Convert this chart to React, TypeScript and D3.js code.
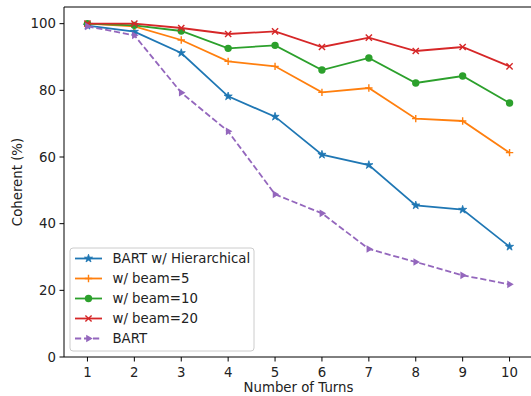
import * as d3 from "d3";

const W = 531;
const H = 396;
const M = { left: 64, right: 533, top: 7, bottom: 357 };

const TURNS = [1, 2, 3, 4, 5, 6, 7, 8, 9, 10];
const Y_TICKS = [0, 20, 40, 60, 80, 100];

const HIER = [99.4, 97.6, 91.2, 78.2, 72.1, 60.7, 57.6, 45.5, 44.2, 33.1];
const BEAM5 = [100, 99.2, 95.1, 88.7, 87.2, 79.4, 80.7, 71.5, 70.8, 61.3];
const BEAM10 = [100, 99.5, 97.8, 92.6, 93.5, 86.1, 89.7, 82.2, 84.3, 76.2];
const BEAM20 = [100, 100, 98.7, 96.9, 97.7, 93.0, 95.8, 91.8, 93.0, 87.2];
const BART = [99.2, 96.5, 79.3, 67.7, 48.8, 43.1, 32.4, 28.5, 24.5, 21.8];

type Marker = "star" | "plus" | "circle" | "x" | "tri";

const SERIES: { name: string; values: number[]; color: string; marker: Marker; dashed?: boolean }[] = [
  { name: "BART w/ Hierarchical", values: HIER, color: "#1f77b4", marker: "star" },
  { name: "w/ beam=5", values: BEAM5, color: "#ff7f0e", marker: "plus" },
  { name: "w/ beam=10", values: BEAM10, color: "#2ca02c", marker: "circle" },
  { name: "w/ beam=20", values: BEAM20, color: "#d62728", marker: "x" },
  { name: "BART", values: BART, color: "#9467bd", marker: "tri", dashed: true },
];

const FONT = "DejaVu Sans, sans-serif";
const FS = 13.3;
const DASH = "6.2,2.8";

function starPath(r: number) {
  const pts: string[] = [];
  for (let i = 0; i < 10; i++) {
    const a = -Math.PI / 2 + (i * Math.PI) / 5;
    const rr = i % 2 === 0 ? r : r * 0.38;
    pts.push(`${(Math.cos(a) * rr).toFixed(2)},${(Math.sin(a) * rr).toFixed(2)}`);
  }
  return "M" + pts.join("L") + "Z";
}

function MarkerShape({ kind, x, y, color }: { kind: Marker; x: number; y: number; color: string }) {
  const t = `translate(${x},${y})`;
  if (kind === "circle") return <circle cx={x} cy={y} r={3.7} fill={color} />;
  if (kind === "star") return <path transform={t} d={starPath(4.3)} fill={color} stroke={color} strokeWidth={0.8} />;
  if (kind === "plus")
    return <path transform={t} d="M-3.7,0H3.7M0,-3.7V3.7" stroke={color} strokeWidth={1.4} fill="none" />;
  if (kind === "x")
    return <path transform={t} d="M-3.1,-3.1L3.1,3.1M-3.1,3.1L3.1,-3.1" stroke={color} strokeWidth={1.4} fill="none" />;
  return <path transform={t} d="M4.2,0L-2.3,-3.8L-2.3,3.8Z" fill={color} />;
}

export default function App() {
  const x = d3.scaleLinear().domain([0.5, 10.5]).range([M.left, M.right]);
  const y = d3.scaleLinear().domain([0, 105]).range([M.bottom, M.top]);
  const line = d3
    .line<number>()
    .x((_, i) => x(TURNS[i]))
    .y((d) => y(d));

  const legX = 70;
  const legY = 248;
  const rowH = 20;

  return (
    <svg width={W} height={H} style={{ position: "absolute", left: 0, top: 0, background: "#fff" }} fontFamily={FONT}>
      <rect width={W} height={H} fill="#fff" />
      {/* spines */}
      <path
        d={`M${M.left},${M.top}H${M.right}M${M.left},${M.top}V${M.bottom}H${M.right}`}
        stroke="#000"
        strokeWidth={1}
        fill="none"
      />
      {/* ticks */}
      {TURNS.map((t) => (
        <g key={`xt${t}`}>
          <line x1={x(t)} x2={x(t)} y1={M.bottom} y2={M.bottom + 4.5} stroke="#000" />
          <text x={x(t)} y={M.bottom + 19.5} textAnchor="middle" fontSize={FS} fill="#222">
            {t}
          </text>
        </g>
      ))}
      {Y_TICKS.map((t) => (
        <g key={`yt${t}`}>
          <line x1={M.left - 4.5} x2={M.left} y1={y(t)} y2={y(t)} stroke="#000" />
          <text x={M.left - 8} y={y(t)} dy="0.35em" textAnchor="end" fontSize={FS} fill="#222">
            {t}
          </text>
        </g>
      ))}
      <text x={298.5} y={392} textAnchor="middle" fontSize={FS} fill="#222">
        Number of Turns
      </text>
      <text transform={`translate(22,${(M.top + M.bottom) / 2}) rotate(-90)`} textAnchor="middle" fontSize={FS} fill="#222">
        Coherent (%)
      </text>

      {/* series */}
      {SERIES.map((s) => (
        <g key={s.name}>
          <path
            d={line(s.values) ?? ""}
            fill="none"
            stroke={s.color}
            strokeWidth={1.8}
            strokeDasharray={s.dashed ? DASH : undefined}
          />
          {s.values.map((v, i) => (
            <MarkerShape key={i} kind={s.marker} x={x(TURNS[i])} y={y(v)} color={s.color} />
          ))}
        </g>
      ))}

      {/* legend */}
      <rect x={legX} y={legY} width={184} height={103} rx={3} fill="#fff" fillOpacity={0.8} stroke="#ccc" />
      {SERIES.map((s, i) => {
        const cy = legY + 10.5 + i * rowH;
        return (
          <g key={`leg${s.name}`}>
            <line
              x1={75}
              x2={102}
              y1={cy}
              y2={cy}
              stroke={s.color}
              strokeWidth={1.8}
              strokeDasharray={s.dashed ? DASH : undefined}
            />
            <MarkerShape kind={s.marker} x={88.5} y={cy} color={s.color} />
            <text x={112.5} y={cy} dy="0.35em" fontSize={FS} fill="#222">
              {s.name}
            </text>
          </g>
        );
      })}
    </svg>
  );
}
